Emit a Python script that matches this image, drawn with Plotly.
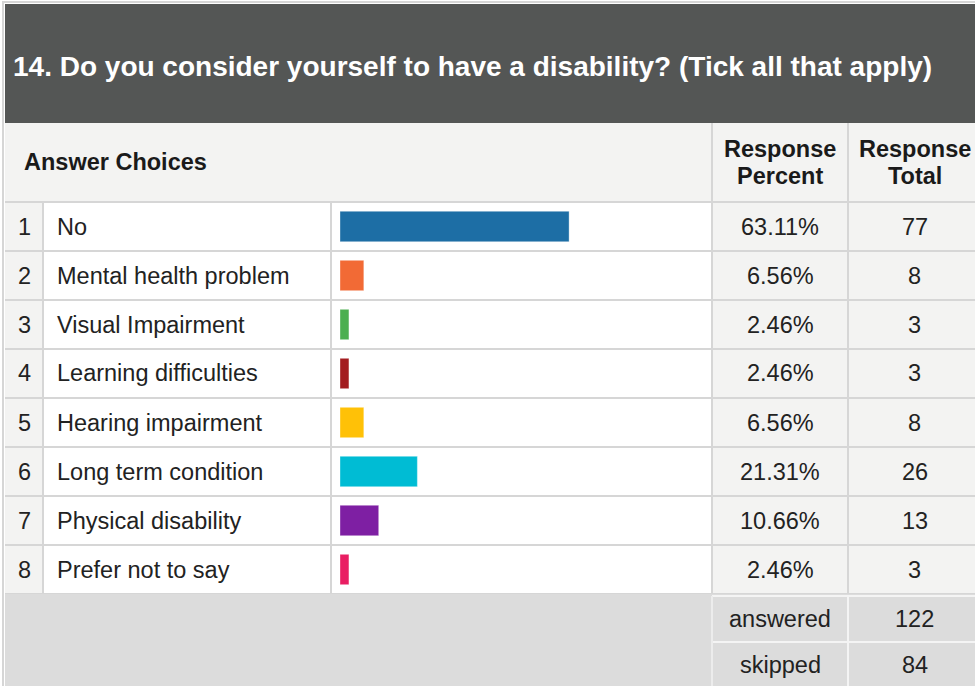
import plotly.graph_objects as go

# Survey question and responses
question = "14. Do you consider yourself to have a disability? (Tick all that apply)"
choices = [
    "No",
    "Mental health problem",
    "Visual Impairment",
    "Learning difficulties",
    "Hearing impairment",
    "Long term condition",
    "Physical disability",
    "Prefer not to say",
]
percents = [63.11, 6.56, 2.46, 2.46, 6.56, 21.31, 10.66, 2.46]
totals = [77, 8, 3, 3, 8, 26, 13, 3]
bar_colors = ["#1d6ea5", "#f26a35", "#4caf50", "#a31c20",
              "#ffc107", "#00bcd4", "#7e1fa3", "#e91e63"]
answered = 122
skipped = 84

W, H = 975, 686
FONT = "Liberation Sans, Arial, sans-serif"
TXT = "#222222"
GRID = "#d6d6d6"
LIGHT = "#f3f3f2"
FOOT = "#dcdcdc"
BODY = 23.5

# table geometry (pixels)
X_LEFT, X_NUM, X_LAB, X_BAR, X_PCT, X_RIGHT = 5, 43, 331, 712, 848, 975
Y_TOP, Y_HEAD, Y_ROWS = 4, 123, 202
ROW_H = 49
Y_FOOT = Y_ROWS + ROW_H * len(choices)


def px(x):
    return x / W


def py(y):
    return 1 - y / H


shapes = []


def rect(x0, y0, x1, y1, fill, line=None, width=0):
    shapes.append(dict(type="rect", xref="paper", yref="paper",
                       x0=px(x0), x1=px(x1), y0=py(y1), y1=py(y0),
                       fillcolor=fill, layer="below",
                       line=dict(color=line or fill, width=width)))


def hline(y, x0, x1, color=GRID, width=2):
    shapes.append(dict(type="line", xref="paper", yref="paper",
                       x0=px(x0), x1=px(x1), y0=py(y), y1=py(y),
                       line=dict(color=color, width=width), layer="below"))


def vline(x, y0, y1, color=GRID, width=2):
    shapes.append(dict(type="line", xref="paper", yref="paper",
                       x0=px(x), x1=px(x), y0=py(y0), y1=py(y1),
                       line=dict(color=color, width=width), layer="below"))


# outer frame
rect(X_LEFT - 2, Y_TOP - 2, X_RIGHT + 2, H + 2, "#ffffff", line=GRID, width=2)
# title band
rect(X_LEFT, Y_TOP, X_RIGHT, Y_HEAD, "#545655")
# column header band
rect(X_LEFT, Y_HEAD, X_RIGHT, Y_ROWS, LIGHT)
vline(X_BAR, Y_HEAD, Y_ROWS)
vline(X_PCT, Y_HEAD, Y_ROWS)

# body rows
for i in range(len(choices)):
    y0 = Y_ROWS + i * ROW_H
    y1 = y0 + ROW_H
    rect(X_LEFT, y0, X_NUM, y1, LIGHT)
    rect(X_NUM, y0, X_BAR, y1, "#ffffff")
    rect(X_BAR, y0, X_RIGHT, y1, LIGHT)
for i in range(len(choices) + 1):
    hline(Y_ROWS + i * ROW_H, X_LEFT, X_RIGHT)
for x in (X_NUM, X_LAB, X_BAR, X_PCT):
    vline(x, Y_ROWS, Y_FOOT)

# footer
rect(X_LEFT, Y_FOOT, X_RIGHT, H, FOOT)
hline(Y_FOOT + 2, X_BAR, X_RIGHT, color="#f4f4f4", width=2)
hline(Y_FOOT + 48, X_BAR, X_RIGHT, color="#f4f4f4", width=2)
vline(X_BAR, Y_FOOT + 2, H, color="#ececec", width=2)
vline(X_PCT, Y_FOOT + 2, H, color="#f4f4f4", width=2)

annotations = []


def text(x, y, s, size=BODY, bold=False, color=TXT, anchor="left"):
    annotations.append(dict(
        xref="paper", yref="paper", x=px(x), y=py(y), text=f"<b>{s}</b>" if bold else s,
        showarrow=False, xanchor=anchor, yanchor="middle",
        font=dict(family=FONT, size=size, color=color)))


HEAD = "#1a1a1a"
X_PCT_MID = (X_BAR + X_PCT) / 2
X_TOT_MID = (X_PCT + X_RIGHT) / 2 + 3

text(11, 67, question, size=28, bold=True, color="#ffffff")
text(22, 162, "Answer Choices", bold=True, color=HEAD)
text(X_PCT_MID, 149, "Response", bold=True, color=HEAD, anchor="center")
text(X_PCT_MID, 176, "Percent", bold=True, color=HEAD, anchor="center")
text(X_TOT_MID, 149, "Response", bold=True, color=HEAD, anchor="center")
text(X_TOT_MID, 176, "Total", bold=True, color=HEAD, anchor="center")

for i, (c, p, t) in enumerate(zip(choices, percents, totals)):
    yc = Y_ROWS + i * ROW_H + ROW_H / 2
    text((X_LEFT + X_NUM) / 2, yc, str(i + 1), anchor="center")
    text(55, yc, c)
    text(X_PCT_MID, yc, f"{p:.2f}%", anchor="center")
    text(X_TOT_MID, yc, str(t), anchor="center")

text(X_PCT_MID, Y_FOOT + 25, "answered", anchor="center")
text(X_TOT_MID, Y_FOOT + 25, str(answered), anchor="center")
text(X_PCT_MID, Y_FOOT + 71, "skipped", anchor="center")
text(X_TOT_MID, Y_FOOT + 71, str(skipped), anchor="center")

fig = go.Figure()
fig.add_trace(go.Bar(
    x=percents,
    y=list(range(1, len(choices) + 1)),
    orientation="h",
    width=0.62,
    marker=dict(color=bar_colors, line=dict(color="rgba(255,255,255,0.35)", width=1)),
    hovertext=choices,
    hoverinfo="text+x",
    xaxis="x2",
    yaxis="y2",
    showlegend=False,
))

# 3.63 px per percentage point, starting at x=340
x0_px = 340
x_scale = 363
fig.update_layout(
    width=W,
    height=H,
    margin=dict(l=0, r=0, t=0, b=0),
    paper_bgcolor="#ffffff",
    plot_bgcolor="rgba(0,0,0,0)",
    xaxis=dict(visible=False),
    yaxis=dict(visible=False),
    xaxis2=dict(domain=[px(x0_px), px(x0_px + x_scale)], range=[0, 100],
                visible=False, fixedrange=True, anchor="y2"),
    yaxis2=dict(domain=[py(Y_FOOT), py(Y_ROWS)], range=[len(choices) + 0.5, 0.5],
                visible=False, fixedrange=True, anchor="x2"),
    shapes=shapes,
    annotations=annotations,
)

fig.write_html("out.html")
